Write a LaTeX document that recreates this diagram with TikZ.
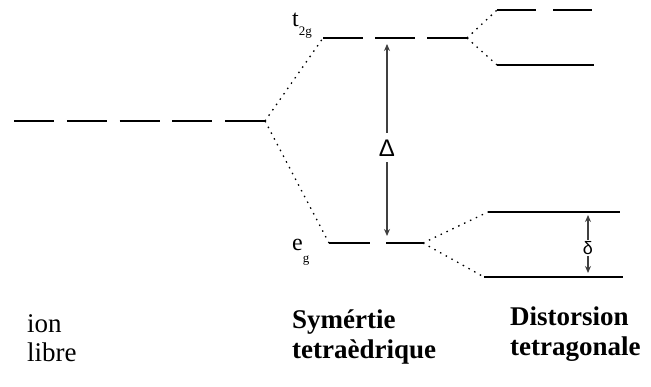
\documentclass[tikz,border=0pt]{standalone}
\usepackage{fontspec}
\setmainfont{Liberation Serif}
\newfontfamily\grkfont{Liberation Sans}
\usetikzlibrary{arrows.meta}
\newcommand{\orbsub}[2]{\raisebox{#1}{\fontsize{13}{13}\selectfont #2}}

\begin{document}
\begin{tikzpicture}[
  x=1pt, y=-1pt, >={Stealth[length=7pt,width=6pt]},
  lvl/.style={line width=2.6pt},
  dgn/.style={lvl, dash pattern=on 40pt off 12pt},
  corr/.style={line width=1.3pt, dash pattern=on 1.5pt off 5pt},
  gap/.style={<->, line width=1.4pt, black!75},
  lbl/.style={font=\fontsize{27}{31}\selectfont, anchor=base west, inner sep=0pt},
  hd/.style={lbl, font=\fontsize{27}{31}\selectfont\bfseries},
  orb/.style={font=\fontsize{24}{24}\selectfont, anchor=base west, inner sep=0pt},
  sym/.style={fill=white, inner sep=1pt}
]
\useasboundingbox (0,0) rectangle (651,387);

% level end points
\coordinate (ion-l) at (14,121);
\coordinate (ion-r) at (265,121);
\coordinate (t-l) at (323,38);
\coordinate (t-r) at (467,38);
\coordinate (e-l) at (329,243);
\coordinate (e-r) at (423,243);
\coordinate (tu-l) at (497,10);
\coordinate (tu-r) at (592,10);
\coordinate (tl-l) at (497,65);
\coordinate (tl-r) at (594,65);
\coordinate (eu-l) at (488,212);
\coordinate (eu-r) at (620,212);
\coordinate (el-l) at (484,277);
\coordinate (el-r) at (623,277);

% levels
\draw[dgn, dash pattern=on 40pt off 12.75pt] (ion-l) -- (ion-r);
\draw[dgn] (t-l) -- (t-r);
\draw[dgn, dash pattern=on 41pt off 16pt] (e-l) -- (e-r);
\draw[dgn, dash pattern=on 39pt off 17pt] (tu-l) -- (tu-r);
\draw[lvl] (tl-l) -- (tl-r);
\draw[lvl] (eu-l) -- (eu-r);
\draw[lvl] (el-l) -- (el-r);

% correlation lines
\draw[corr] (ion-r) -- (t-l);
\draw[corr] (ion-r) -- (e-l);
\draw[corr] (t-r) -- (tu-l);
\draw[corr] (t-r) -- (tl-l);
\draw[corr] (e-r) -- (eu-l);
\draw[corr] (e-r) -- (el-l);

% splittings
\coordinate (Dtop) at (387,44);
\coordinate (Dbot) at (387,236);
\coordinate (dtop) at (588,215);
\coordinate (dbot) at (588,273);
\draw[gap] (Dtop) -- (Dbot);
\draw[gap] (dtop) -- (dbot);
\node[sym, minimum height=29pt, font=\grkfont\fontsize{24}{24}\selectfont] (Delta) at (387,148) {Δ};
\node[sym, font=\grkfont\fontsize{18}{18}\selectfont] (delta) at (588,248) {δ};

% orbital labels
\node[orb] (t2g) at (292,27) {t\orbsub{-9pt}{2g}};
\node[orb] (eg) at (292,251) {e\orbsub{-12pt}{g}};

% column titles
\node[lbl] (ion) at (27,333) {ion};
\node[lbl] (libre) at (27,362) {libre};
\node[hd] (sym1) at (292,329) {Symértie};
\node[hd] (sym2) at (292,359) {tetraèdrique};
\node[hd] (dist1) at (510,326) {Distorsion};
\node[hd] (dist2) at (510,356) {tetragonale};
\end{tikzpicture}
\end{document}
